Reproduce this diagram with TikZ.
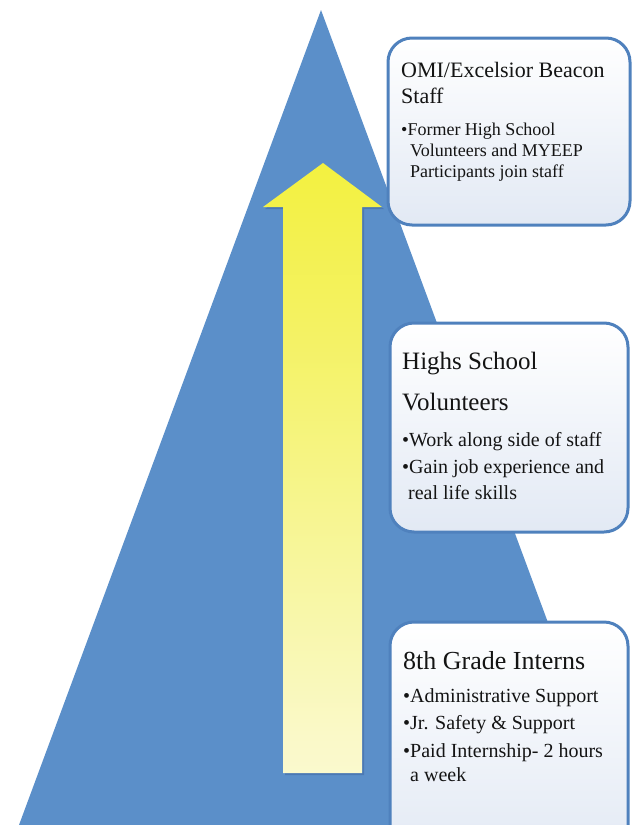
\documentclass[tikz,border=0pt]{standalone}
\usepackage{fontspec}
\setmainfont{Liberation Serif}
\definecolor{pyr}{RGB}{91,143,201}
\definecolor{pyrdark}{RGB}{60,100,160}
\definecolor{boxline}{RGB}{79,129,189}
\definecolor{boxlow}{RGB}{226,233,244}
\definecolor{arrtop}{RGB}{240,238,0}
\definecolor{arrupper}{RGB}{244,242,100}
\definecolor{arrmid}{RGB}{250,249,200}
\definecolor{arrbot}{RGB}{255,255,248}
\definecolor{txt}{RGB}{20,20,20}
\pgfdeclareverticalshading{arrowshade}{100bp}{color(0bp)=(arrbot); color(28bp)=(arrmid); color(61bp)=(arrupper); color(100bp)=(arrtop)}
\tikzset{
  infobox/.style={draw=boxline, line width=3pt, rounded corners=24pt, top color=white, bottom color=boxlow},
  ttl/.style={anchor=base west, inner sep=0pt, text=txt},
  bl/.style={anchor=base west, inner sep=0pt, text=txt},
}
\begin{document}
\begin{tikzpicture}[x=1pt,y=-1pt]
\useasboundingbox (0,0) rectangle (633,825);
\begin{scope}
\clip (0,0) rectangle (633,825);
% pyramid
\fill[pyr] (321,10) -- (623,825) -- (19,825) -- cycle;
% arrow shadow
\fill[pyrdark, opacity=0.5] (325,165) -- (384,209) -- (364,209) -- (364,775) -- (285,775) -- (285,209) -- (265,209) -- cycle;
% arrow
\shade[shading=arrowshade] (323,163) -- (382,207) -- (362,207) -- (362,773) -- (283,773) -- (283,207) -- (263,207) -- cycle;
% boxes
\draw[infobox] (388,38) rectangle (630,225);
\draw[infobox] (390,323) rectangle (628,532);
\draw[infobox] (390,622) rectangle (628,860);
\end{scope}
% box 1 text
\node[ttl, font=\fontsize{22}{26}\selectfont] (t1a) at (401,77) {OMI/Excelsior Beacon};
\node[ttl, font=\fontsize{22}{26}\selectfont] (t1b) at (401,103) {Staff};
\node[bl, font=\fontsize{18}{21}\selectfont] (b1a) at (401,135) {•Former High School};
\node[bl, font=\fontsize{18}{21}\selectfont] (b1b) at (410,156) {Volunteers and MYEEP};
\node[bl, font=\fontsize{18}{21}\selectfont] (b1c) at (410,177) {Participants join staff};
% box 2 text
\node[ttl, font=\fontsize{25}{30}\selectfont] (t2a) at (402,369) {Highs School};
\node[ttl, font=\fontsize{25}{30}\selectfont] (t2b) at (402,410) {Volunteers};
\node[bl, font=\fontsize{20}{24}\selectfont] (b2a) at (402,446) {•Work along side of staff};
\node[bl, font=\fontsize{20}{24}\selectfont] (b2b) at (402,473) {•Gain job experience and};
\node[bl, font=\fontsize{20}{24}\selectfont] (b2c) at (408,499) {real life skills};
% box 3 text
\node[ttl, font=\fontsize{26}{30}\selectfont] (t3a) at (403,669) {8th Grade Interns};
\node[bl, font=\fontsize{20}{24}\selectfont] (b3a) at (403,702) {•Administrative Support};
\node[bl, font=\fontsize{20}{24}\selectfont] (b3b) at (403,729) {•Jr. Safety \& Support};
\node[bl, font=\fontsize{20}{24}\selectfont] (b3c) at (403,757) {•Paid Internship- 2 hours};
\node[bl, font=\fontsize{20}{24}\selectfont] (b3d) at (410,781) {a week};
\end{tikzpicture}
\end{document}
